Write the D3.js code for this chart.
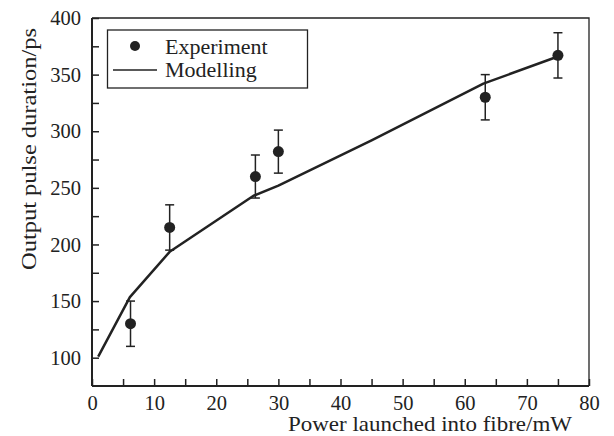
<!DOCTYPE html>
<html><head><meta charset="utf-8">
<script src="https://cdn.jsdelivr.net/npm/d3@7"></script>
<style>body{margin:0;background:#fff}svg{display:block}text{font-family:"Liberation Serif","Times New Roman",serif;fill:#222}</style>
</head><body><svg id="c" width="614" height="436"></svg>
<script>
const expX = [6.2, 12.5, 26.3, 30, 63.3, 75];
const expY = [130, 215, 260, 282, 330, 367];
const expErr = [20, 20, 19, 19, 20, 20];
const modX = [1, 6.1, 12.5, 26, 30, 45, 63, 75];
const modY = [101, 153.5, 193.5, 243, 252, 292, 342, 366];
const xTicks = [0, 10, 20, 30, 40, 50, 60, 70, 80];
const yTicks = [100, 150, 200, 250, 300, 350, 400];
const legendLabels = ["Experiment", "Modelling"];
const xTitle = "Power launched into fibre/mW";
const yTitle = "Output pulse duration/ps";

const svg = d3.select("#c");
const L = 92, R = 589, T = 18, B = 386;
const x = d3.scaleLinear().domain([0, 80]).range([L, R]);
const y = d3.scaleLinear().domain([75, 400]).range([B, T]);
const ink = "#222";

// frame top/right
svg.append("path").attr("d", `M${L},${T}H${R}V${B}`).attr("fill","none").attr("stroke",ink).attr("stroke-width",1.3);

// axes
const xAxis = d3.axisBottom(x).tickValues(d3.range(0, 81, 5)).tickSize(-7).tickPadding(10)
  .tickFormat(d => xTicks.includes(d) ? d : "");
const gx = svg.append("g").attr("transform", `translate(0,${B})`).call(xAxis);
const yAxis = d3.axisLeft(y).tickValues(d3.range(100, 401, 25)).tickSize(-7).tickPadding(11)
  .tickFormat(d => yTicks.includes(d) ? d : "");
const gy = svg.append("g").attr("transform", `translate(${L},0)`).call(yAxis);
[gx, gy].forEach(g => {
  g.select(".domain").attr("stroke", ink).attr("stroke-width", 2);
  g.selectAll(".tick line").attr("stroke", ink).attr("stroke-width", 1.5);
  g.selectAll(".tick text").attr("font-size", 20.5).attr("font-family", "Liberation Serif").attr("fill", ink);
});
gx.select(".domain").attr("d", `M${L},0H${R}`);
gy.select(".domain").attr("d", `M0,${B}V${T}`);
gx.selectAll(".tick text").attr("dy", "0.68em");
gx.selectAll(".tick").filter(d => !xTicks.includes(d)).select("text").remove();
gy.selectAll(".tick").filter(d => !yTicks.includes(d)).select("text").remove();

// titles
svg.append("text").attr("x", 572).attr("y", 431).attr("text-anchor", "end").attr("font-size", 22)
  .attr("textLength", 284).attr("lengthAdjust", "spacingAndGlyphs").text(xTitle);
svg.append("text").attr("transform", "translate(36,149) rotate(-90)").attr("text-anchor", "middle").attr("font-size", 21.5)
  .attr("textLength", 242).attr("lengthAdjust", "spacingAndGlyphs").text(yTitle);

// model line
const line = d3.line().x((d, i) => x(modX[i])).y((d, i) => y(modY[i]));
svg.append("path").datum(modY).attr("d", line).attr("fill", "none").attr("stroke", ink).attr("stroke-width", 2.5).attr("stroke-linejoin","round");

// error bars + points
const eg = svg.append("g").attr("stroke", ink).attr("stroke-width", 1.5);
expX.forEach((xv, i) => {
  const cx = x(xv), y1 = y(expY[i] + expErr[i]), y2 = y(expY[i] - expErr[i]);
  eg.append("line").attr("x1", cx).attr("x2", cx).attr("y1", y1).attr("y2", y2);
  eg.append("line").attr("x1", cx - 4.5).attr("x2", cx + 4.5).attr("y1", y1).attr("y2", y1);
  eg.append("line").attr("x1", cx - 4.5).attr("x2", cx + 4.5).attr("y1", y2).attr("y2", y2);
});
svg.append("g").selectAll("circle").data(expY).join("circle")
  .attr("cx", (d, i) => x(expX[i])).attr("cy", d => y(d)).attr("r", 5.5).attr("fill", ink);

// legend
const lg = svg.append("g");
lg.append("rect").attr("x", 107.5).attr("y", 30).attr("width", 200).attr("height", 58).attr("fill", "#fff").attr("stroke", ink).attr("stroke-width", 1.3);
lg.append("circle").attr("cx", 135).attr("cy", 46).attr("r", 5).attr("fill", ink);
lg.append("line").attr("x1", 113).attr("x2", 157).attr("y1", 70).attr("y2", 70).attr("stroke", ink).attr("stroke-width", 1.5);
lg.selectAll("text.lab").data(legendLabels).join("text").attr("class","lab")
  .attr("x", 165).attr("y", (d, i) => 53.5 + i * 23.5).attr("font-size", 22).text(d => d);
</script></body></html>
